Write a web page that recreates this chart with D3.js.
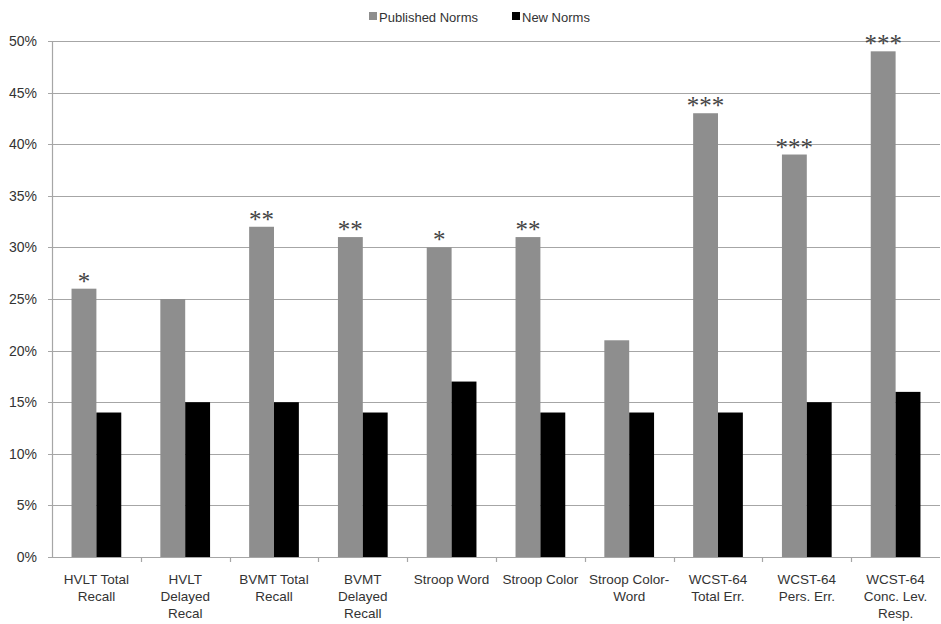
<!DOCTYPE html>
<html>
<head>
<meta charset="utf-8">
<script src="https://cdn.jsdelivr.net/npm/d3@7"></script>
<style>
  body { margin: 0; background: #fff; }
  svg { display: block; font-family: "Liberation Sans", Arial, sans-serif; }
</style>
</head>
<body>
<div id="chart"></div>
<script>
// categories and values
const categories = [
  'HVLT Total|Recall', 'HVLT|Delayed|Recal', 'BVMT Total|Recall', 'BVMT|Delayed|Recall',
  'Stroop Word', 'Stroop Color', 'Stroop Color-|Word', 'WCST-64|Total Err.',
  'WCST-64|Pers. Err.', 'WCST-64|Conc. Lev.|Resp.'
];
const publishedNorms = [26, 25, 32, 31, 30, 31, 21, 43, 39, 49];
const newNorms = [14, 15, 15, 14, 17, 14, 14, 14, 15, 16];
const significance = ['*', '', '**', '**', '*', '**', '', '***', '***', '***'];
const yTicks = [0, 5, 10, 15, 20, 25, 30, 35, 40, 45, 50];
const seriesNames = ['Published Norms', 'New Norms'];

const width = 941, height = 624;
const margin = { top: 41, right: 1, bottom: 67, left: 52 };
const innerWidth = width - margin.left - margin.right;
const innerHeight = height - margin.top - margin.bottom;
const colors = ['#8e8e8e', '#000000'];

const svg = d3.select('#chart').append('svg')
  .attr('width', width)
  .attr('height', height);

const x = d3.scaleBand()
  .domain(categories)
  .range([0, innerWidth])
  .paddingInner(0)
  .paddingOuter(0);

const xSub = d3.scaleBand()
  .domain(seriesNames)
  .range([x.bandwidth() * 0.22, x.bandwidth() * 0.78]);

const y = d3.scaleLinear()
  .domain([0, 50])
  .range([innerHeight, 0]);

const g = svg.append('g').attr('transform', `translate(${margin.left},${margin.top})`);

// gridlines
g.append('g')
  .selectAll('line')
  .data(yTicks)
  .enter()
  .append('line')
  .attr('x1', -4)
  .attr('x2', innerWidth)
  .attr('y1', d => Math.round(y(d)) + 0.5)
  .attr('y2', d => Math.round(y(d)) + 0.5)
  .attr('stroke', '#a6a6a6')
  .attr('stroke-width', 1.2);

// y axis line
g.append('line')
  .attr('x1', 0.5).attr('x2', 0.5)
  .attr('y1', 0).attr('y2', innerHeight)
  .attr('stroke', '#a6a6a6')
  .attr('stroke-width', 1.2);

// y tick labels
g.append('g')
  .selectAll('text')
  .data(yTicks)
  .enter()
  .append('text')
  .attr('x', -15)
  .attr('y', d => y(d))
  .attr('dy', '0.36em')
  .attr('text-anchor', 'end')
  .attr('fill', '#333')
  .style('font-size', '14px')
  .text(d => d + '%');

// x category ticks
g.append('g')
  .selectAll('line')
  .data(categories.slice(1))
  .enter()
  .append('line')
  .attr('x1', d => Math.round(x(d)) + 0.5)
  .attr('x2', d => Math.round(x(d)) + 0.5)
  .attr('y1', innerHeight)
  .attr('y2', innerHeight + 5)
  .attr('stroke', '#a6a6a6')
  .attr('stroke-width', 1.2);

// bars
const groups = g.selectAll('.cat')
  .data(categories)
  .enter()
  .append('g')
  .attr('class', 'cat')
  .attr('transform', d => `translate(${x(d)},0)`);

groups.selectAll('rect')
  .data((d, i) => [
    { series: seriesNames[0], value: publishedNorms[i] },
    { series: seriesNames[1], value: newNorms[i] }
  ])
  .enter()
  .append('rect')
  .attr('x', d => xSub(d.series))
  .attr('y', d => y(d.value))
  .attr('width', xSub.bandwidth())
  .attr('height', d => innerHeight - y(d.value))
  .attr('fill', (d, i) => colors[i]);

// significance stars
groups.append('text')
  .attr('x', xSub(seriesNames[0]) + xSub.bandwidth() / 2)
  .attr('y', (d, i) => y(publishedNorms[i]) + 1)
  .attr('text-anchor', 'middle')
  .attr('fill', '#444')
  .style('font-size', '25px')
  .style('font-family', '"Liberation Serif", serif')
  .style('letter-spacing', '0px')
  .text((d, i) => significance[i]);

// x labels
const labels = groups.append('text')
  .attr('text-anchor', 'middle')
  .attr('fill', '#333')
  .style('font-size', '13.5px');

labels.selectAll('tspan')
  .data(d => d.split('|'))
  .enter()
  .append('tspan')
  .attr('x', x.bandwidth() / 2)
  .attr('y', (d, i) => innerHeight + 27 + i * 17)
  .text(d => d);

// legend
const legend = svg.append('g').attr('transform', 'translate(369,17)');
const legendX = [0, 143];
seriesNames.forEach((name, i) => {
  const item = legend.append('g').attr('transform', `translate(${legendX[i]},0)`);
  item.append('rect')
    .attr('x', 0).attr('y', -5)
    .attr('width', 8).attr('height', 8)
    .attr('fill', colors[i]);
  item.append('text')
    .attr('x', 10)
    .attr('y', 0)
    .attr('dy', '0.35em')
    .attr('fill', '#333')
    .style('font-size', '13px')
    .text(name);
});
</script>
</body>
</html>
